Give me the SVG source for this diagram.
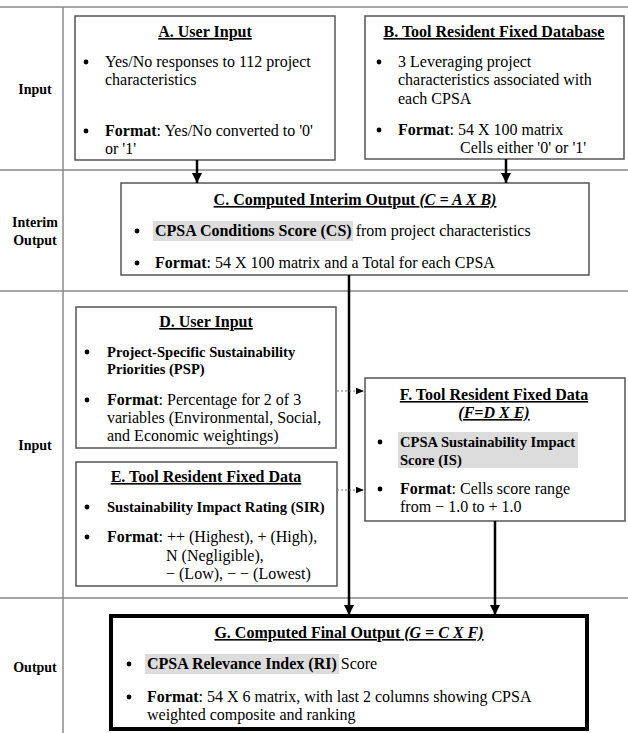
<svg xmlns="http://www.w3.org/2000/svg" width="628" height="733" viewBox="0 0 628 733">
<defs>
<style>
text{font-family:"Liberation Serif","Times New Roman",serif;fill:#000;}
.t{font-size:16px;}
.g{font-size:16px;}
.h{font-size:16px;font-weight:bold;text-decoration:underline;text-anchor:middle;}
.b{font-weight:bold;}
.i{font-style:italic;}
.s{font-size:14.6px;font-weight:bold;}
.lab{font-size:14px;font-weight:bold;text-anchor:middle;}
.box{fill:#fff;stroke:#555;stroke-width:1.5;}
.grid{stroke:#888;stroke-width:1.5;fill:none;}
.hl{fill:#dcdcdc;}
.bul{fill:#000;}
.arr{stroke:#000;stroke-width:2.5;fill:none;}
.dot{stroke:#777;stroke-width:1;stroke-dasharray:2 2;fill:none;}
</style>
<marker id="ah" viewBox="0 0 10 10" refX="10" refY="5" markerWidth="4" markerHeight="4" markerUnits="strokeWidth" orient="auto"><path d="M0,0 L10,5 L0,10 z" fill="#000"/></marker>
<marker id="ahs" viewBox="0 0 10 10" refX="10" refY="5" markerWidth="8" markerHeight="8" markerUnits="strokeWidth" orient="auto"><path d="M0,1 L10,5 L0,9 z" fill="#000"/></marker>
</defs>
<rect width="628" height="733" fill="#fff"/>
<g id="grid">
<line class="grid" x1="0" y1="7" x2="628" y2="7"/>
<line class="grid" x1="0" y1="170" x2="628" y2="170"/>
<line class="grid" x1="0" y1="291" x2="628" y2="291"/>
<line class="grid" x1="0" y1="598" x2="628" y2="598"/>
<line class="grid" x1="63" y1="7" x2="63" y2="733"/>
<text class="lab" x="35" y="94">Input</text>
<text class="lab" x="35" y="227">Interim</text>
<text class="lab" x="35" y="245">Output</text>
<text class="lab" x="35" y="450">Input</text>
<text class="lab" x="35" y="672">Output</text>
</g>
<g id="nodeA">
<rect class="box" x="75" y="16" width="260" height="144"/>
<text class="h" x="205" y="37">A. User Input</text>
<circle class="bul" cx="86" cy="62" r="2.4"/>
<text class="t" x="105" y="67">Yes/No responses to 112 project</text>
<text class="t" x="105" y="85">characteristics</text>
<circle class="bul" cx="86" cy="131" r="2.4"/>
<text class="t" x="105" y="136"><tspan class="b">Format</tspan>: Yes/No converted to '0'</text>
<text class="t" x="105" y="154">or '1'</text>
</g>
<g id="nodeB">
<rect class="box" x="365" y="16" width="259" height="143"/>
<text class="h" x="494" y="37">B. Tool Resident Fixed Database</text>
<circle class="bul" cx="379" cy="62" r="2.4"/>
<text class="t" x="398" y="67">3 Leveraging project</text>
<text class="t" x="398" y="85">characteristics associated with</text>
<text class="t" x="398" y="104">each CPSA</text>
<circle class="bul" cx="379" cy="130" r="2.4"/>
<text class="t" x="398" y="135"><tspan class="b">Format</tspan>: 54 X 100 matrix</text>
<text class="t" x="460" y="153">Cells either '0' or '1'</text>
</g>
<g id="nodeC">
<rect class="box" x="121" y="183" width="468" height="92"/>
<text class="h" x="355" y="205">C. Computed Interim Output <tspan class="i">(C = A X B)</tspan></text>
<rect class="hl" x="153" y="221" width="200" height="20"/>
<circle class="bul" cx="137" cy="231" r="2.4"/>
<text class="t" x="155" y="236"><tspan class="b">CPSA Conditions Score (CS)</tspan> from project characteristics</text>
<circle class="bul" cx="137" cy="263" r="2.4"/>
<text class="t" x="155" y="268"><tspan class="b">Format</tspan>: 54 X 100 matrix and a Total for each CPSA</text>
</g>
<g id="nodeD">
<rect class="box" x="76" y="307" width="260" height="141"/>
<text class="h" x="206" y="327">D. User Input</text>
<circle class="bul" cx="87" cy="352" r="2.4"/>
<text class="s" x="107" y="357">Project-Specific Sustainability</text>
<text class="s" x="107" y="374">Priorities (PSP)</text>
<circle class="bul" cx="87" cy="400" r="2.4"/>
<text class="t" x="107" y="405"><tspan class="b">Format</tspan>: Percentage for 2 of 3</text>
<text class="t" x="107" y="423">variables (Environmental, Social,</text>
<text class="t" x="107" y="441">and Economic weightings)</text>
</g>
<g id="nodeE">
<rect class="box" x="76" y="462" width="261" height="124"/>
<text class="h" x="206" y="482">E. Tool Resident Fixed Data</text>
<circle class="bul" cx="87" cy="507" r="2.4"/>
<text class="s" x="107" y="512">Sustainability Impact Rating (SIR)</text>
<circle class="bul" cx="87" cy="537" r="2.4"/>
<text class="t" x="107" y="542"><tspan class="b">Format</tspan>: ++ (Highest), + (High),</text>
<text class="t" x="166" y="561">N (Negligible),</text>
<text class="t" x="166" y="579">− (Low), − − (Lowest)</text>
</g>
<g id="nodeF">
<rect class="box" x="365" y="378" width="260" height="143"/>
<text class="h" x="494" y="400">F. Tool Resident Fixed Data</text>
<text class="h i" x="494" y="418">(F=D X E)</text>
<rect class="hl" x="398" y="432" width="180" height="36"/>
<circle class="bul" cx="380" cy="442" r="2.4"/>
<text class="s" x="400" y="447">CPSA Sustainability Impact</text>
<text class="s" x="400" y="465">Score (IS)</text>
<circle class="bul" cx="380" cy="489" r="2.4"/>
<text class="t" x="400" y="494"><tspan class="b">Format</tspan>: Cells score range</text>
<text class="t" x="400" y="512">from − 1.0 to + 1.0</text>
</g>
<g id="nodeG">
<rect x="111" y="616" width="476" height="113" fill="#fff" stroke="#000" stroke-width="4"/>
<text class="h" x="349" y="638">G. Computed Final Output <tspan class="i">(G = C X F)</tspan></text>
<rect class="hl" x="145" y="654" width="194" height="20"/>
<circle class="bul" cx="129" cy="664" r="2.4"/>
<text class="g" x="147" y="669"><tspan class="b">CPSA Relevance Index (RI)</tspan> Score</text>
<circle class="bul" cx="129" cy="697" r="2.4"/>
<text class="g" x="147" y="702"><tspan class="b">Format</tspan>: 54 X 6 matrix, with last 2 columns showing CPSA</text>
<text class="g" x="147" y="720">weighted composite and ranking</text>
</g>
<g id="connectors">
<line class="arr" x1="197" y1="160" x2="197" y2="183" marker-end="url(#ah)"/>
<line class="arr" x1="506" y1="159" x2="506" y2="183" marker-end="url(#ah)"/>
<line class="arr" x1="349" y1="275" x2="349" y2="615" marker-end="url(#ah)"/>
<line class="arr" x1="495" y1="521" x2="495" y2="615" marker-end="url(#ah)"/>
<line class="dot" x1="337" y1="391" x2="364" y2="391" marker-end="url(#ahs)"/>
<line class="dot" x1="337" y1="490" x2="364" y2="490" marker-end="url(#ahs)"/>
</g>
</svg>
